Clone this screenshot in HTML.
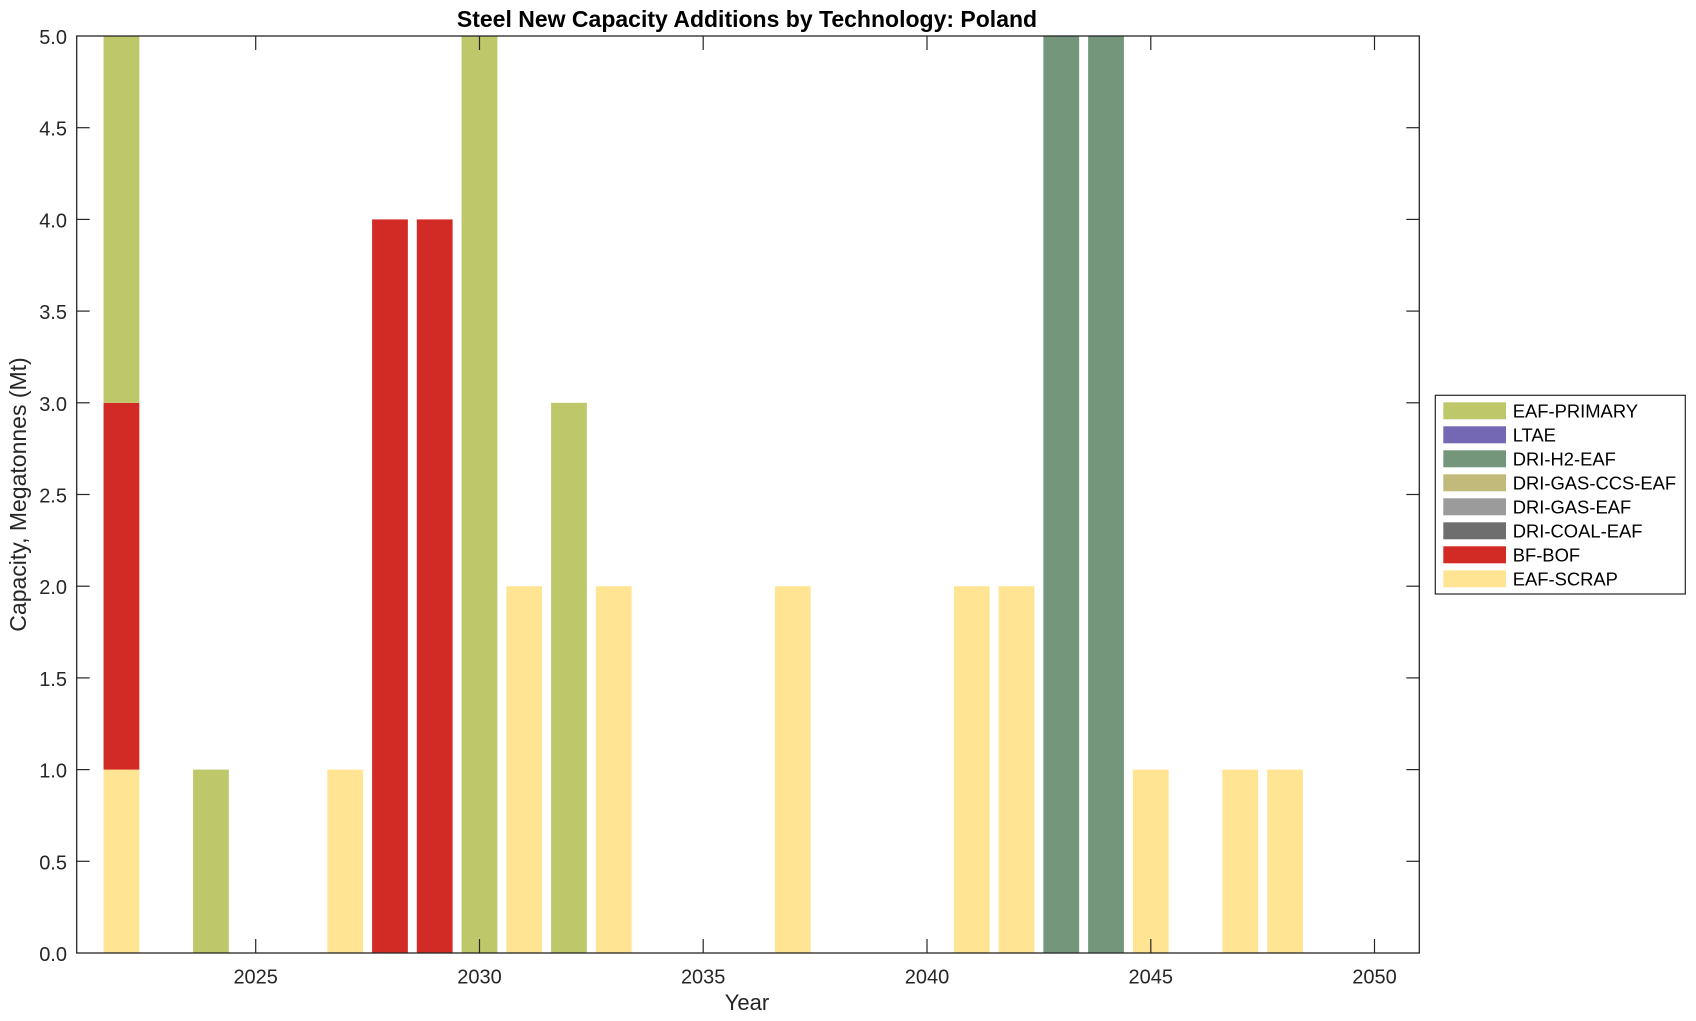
<!DOCTYPE html>
<html>
<head>
<meta charset="utf-8">
<style>
  html, body { margin: 0; padding: 0; background: #ffffff; }
  svg { display: block; }
  text { font-family: "Liberation Sans", Arial, Helvetica, sans-serif; fill: #262626; }
</style>
</head>
<body>
<svg width="1696" height="1021" viewBox="0 0 1696 1021" xmlns="http://www.w3.org/2000/svg">
  <rect x="0" y="0" width="1696" height="1021" fill="#ffffff"/>
  <defs>
    <clipPath id="plot">
      <rect x="76.7" y="36" width="1342.6" height="917"/>
    </clipPath>
  </defs>

  <!-- Bars -->
  <g clip-path="url(#plot)">
    <rect x="103.55" y="769.6" width="35.8" height="183.4" fill="#FFE494"/>
    <rect x="103.55" y="402.8" width="35.8" height="366.8" fill="#D22B26"/>
    <rect x="103.55" y="30" width="35.8" height="372.8" fill="#BEC86B"/>
    <rect x="193.06" y="769.6" width="35.8" height="183.4" fill="#BEC86B"/>
    <rect x="327.32" y="769.6" width="35.8" height="183.4" fill="#FFE494"/>
    <rect x="372.07" y="219.4" width="35.8" height="733.6" fill="#D22B26"/>
    <rect x="416.82" y="219.4" width="35.8" height="733.6" fill="#D22B26"/>
    <rect x="461.58" y="30" width="35.8" height="923" fill="#BEC86B"/>
    <rect x="506.33" y="586.2" width="35.8" height="366.8" fill="#FFE494"/>
    <rect x="551.08" y="402.8" width="35.8" height="550.2" fill="#BEC86B"/>
    <rect x="595.84" y="586.2" width="35.8" height="366.8" fill="#FFE494"/>
    <rect x="774.85" y="586.2" width="35.8" height="366.8" fill="#FFE494"/>
    <rect x="953.86" y="586.2" width="35.8" height="366.8" fill="#FFE494"/>
    <rect x="998.61" y="586.2" width="35.8" height="366.8" fill="#FFE494"/>
    <rect x="1043.37" y="30" width="35.8" height="923" fill="#74977B"/>
    <rect x="1088.12" y="30" width="35.8" height="923" fill="#74977B"/>
    <rect x="1132.87" y="769.6" width="35.8" height="183.4" fill="#FFE494"/>
    <rect x="1222.38" y="769.6" width="35.8" height="183.4" fill="#FFE494"/>
    <rect x="1267.13" y="769.6" width="35.8" height="183.4" fill="#FFE494"/>
  </g>

  <!-- Axes box -->
  <rect x="76.7" y="36" width="1342.6" height="917" fill="none" stroke="#262626" stroke-width="1.3"/>

  <!-- Y ticks (left and right) -->
  <g stroke="#262626" stroke-width="1.2">
    <line x1="76.7" y1="861.3" x2="89.7" y2="861.3"/><line x1="1419.3" y1="861.3" x2="1406.3" y2="861.3"/>
    <line x1="76.7" y1="769.6" x2="89.7" y2="769.6"/><line x1="1419.3" y1="769.6" x2="1406.3" y2="769.6"/>
    <line x1="76.7" y1="677.9" x2="89.7" y2="677.9"/><line x1="1419.3" y1="677.9" x2="1406.3" y2="677.9"/>
    <line x1="76.7" y1="586.2" x2="89.7" y2="586.2"/><line x1="1419.3" y1="586.2" x2="1406.3" y2="586.2"/>
    <line x1="76.7" y1="494.5" x2="89.7" y2="494.5"/><line x1="1419.3" y1="494.5" x2="1406.3" y2="494.5"/>
    <line x1="76.7" y1="402.8" x2="89.7" y2="402.8"/><line x1="1419.3" y1="402.8" x2="1406.3" y2="402.8"/>
    <line x1="76.7" y1="311.1" x2="89.7" y2="311.1"/><line x1="1419.3" y1="311.1" x2="1406.3" y2="311.1"/>
    <line x1="76.7" y1="219.4" x2="89.7" y2="219.4"/><line x1="1419.3" y1="219.4" x2="1406.3" y2="219.4"/>
    <line x1="76.7" y1="127.7" x2="89.7" y2="127.7"/><line x1="1419.3" y1="127.7" x2="1406.3" y2="127.7"/>
  </g>

  <!-- X ticks (bottom and top) -->
  <g stroke="#262626" stroke-width="1.2">
    <line x1="255.7" y1="953" x2="255.7" y2="939"/><line x1="255.7" y1="36" x2="255.7" y2="50"/>
    <line x1="479.5" y1="953" x2="479.5" y2="939"/><line x1="479.5" y1="36" x2="479.5" y2="50"/>
    <line x1="703.2" y1="953" x2="703.2" y2="939"/><line x1="703.2" y1="36" x2="703.2" y2="50"/>
    <line x1="927.0" y1="953" x2="927.0" y2="939"/><line x1="927.0" y1="36" x2="927.0" y2="50"/>
    <line x1="1150.8" y1="953" x2="1150.8" y2="939"/><line x1="1150.8" y1="36" x2="1150.8" y2="50"/>
    <line x1="1374.5" y1="953" x2="1374.5" y2="939"/><line x1="1374.5" y1="36" x2="1374.5" y2="50"/>
  </g>

  <!-- Y tick labels -->
  <g font-size="20" text-anchor="end">
    <text x="67" y="961">0.0</text>
    <text x="67" y="869.3">0.5</text>
    <text x="67" y="777.6">1.0</text>
    <text x="67" y="685.9">1.5</text>
    <text x="67" y="594.2">2.0</text>
    <text x="67" y="502.5">2.5</text>
    <text x="67" y="410.8">3.0</text>
    <text x="67" y="319.1">3.5</text>
    <text x="67" y="227.4">4.0</text>
    <text x="67" y="135.7">4.5</text>
    <text x="67" y="44">5.0</text>
  </g>

  <!-- X tick labels -->
  <g font-size="20" text-anchor="middle">
    <text x="255.7" y="983.5">2025</text>
    <text x="479.5" y="983.5">2030</text>
    <text x="703.2" y="983.5">2035</text>
    <text x="927.0" y="983.5">2040</text>
    <text x="1150.8" y="983.5">2045</text>
    <text x="1374.5" y="983.5">2050</text>
  </g>

  <!-- Axis labels -->
  <text x="747" y="1010" font-size="22" text-anchor="middle">Year</text>
  <text x="0" y="0" font-size="23" text-anchor="middle" transform="translate(26,494.5) rotate(-90)">Capacity, Megatonnes (Mt)</text>

  <!-- Title -->
  <text x="747" y="27" font-size="23" font-weight="bold" text-anchor="middle" style="fill:#000">Steel New Capacity Additions by Technology: Poland</text>

  <!-- Legend -->
  <rect x="1435.3" y="395.3" width="250" height="198.7" fill="#ffffff" stroke="#262626" stroke-width="1.2"/>
  <g>
    <rect x="1443.3" y="402.3" width="62.7" height="17" fill="#BEC86B"/>
    <rect x="1443.3" y="426.3" width="62.7" height="17" fill="#7468B4"/>
    <rect x="1443.3" y="450.3" width="62.7" height="17" fill="#74977B"/>
    <rect x="1443.3" y="474.3" width="62.7" height="17" fill="#C2BA7A"/>
    <rect x="1443.3" y="498.3" width="62.7" height="17" fill="#9B9B9B"/>
    <rect x="1443.3" y="522.3" width="62.7" height="17" fill="#6E6E6E"/>
    <rect x="1443.3" y="546.3" width="62.7" height="17" fill="#D22B26"/>
    <rect x="1443.3" y="570.3" width="62.7" height="17" fill="#FFE494"/>
  </g>
  <g font-size="18.4">
    <text x="1512.7" y="417.3" style="fill:#000">EAF-PRIMARY</text>
    <text x="1512.7" y="441.3" style="fill:#000">LTAE</text>
    <text x="1512.7" y="465.3" style="fill:#000">DRI-H2-EAF</text>
    <text x="1512.7" y="489.3" style="fill:#000">DRI-GAS-CCS-EAF</text>
    <text x="1512.7" y="513.3" style="fill:#000">DRI-GAS-EAF</text>
    <text x="1512.7" y="537.3" style="fill:#000">DRI-COAL-EAF</text>
    <text x="1512.7" y="561.3" style="fill:#000">BF-BOF</text>
    <text x="1512.7" y="585.3" style="fill:#000">EAF-SCRAP</text>
  </g>
</svg>
</body>
</html>
